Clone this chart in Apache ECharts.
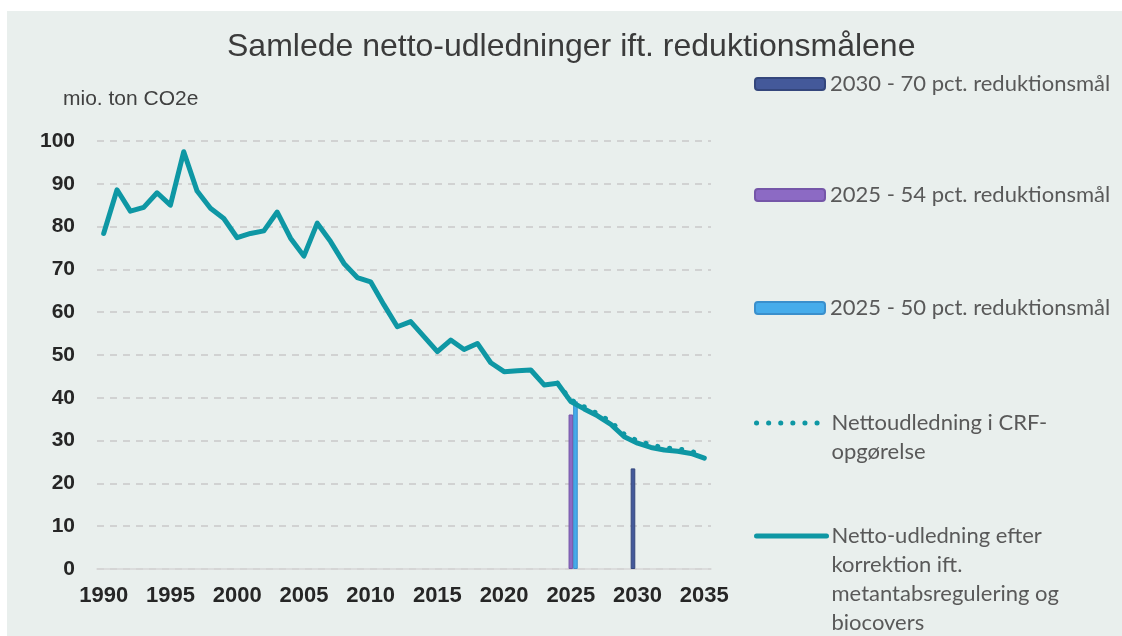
<!DOCTYPE html>
<html>
<head>
<meta charset="utf-8">
<title>Samlede netto-udledninger</title>
<script src="https://cdn.jsdelivr.net/npm/echarts@6/dist/echarts.min.js"></script>
<style>
  html, body { margin: 0; padding: 0; background: #fff; }
  #chart { width: 1122px; height: 636px; }
</style>
</head>
<body>
<div id="chart"></div>
<script>
// data (mio. ton CO2e)
const years = ['1990','1991','1992','1993','1994','1995','1996','1997','1998','1999',
  '2000','2001','2002','2003','2004','2005','2006','2007','2008','2009',
  '2010','2011','2012','2013','2014','2015','2016','2017','2018','2019',
  '2020','2021','2022','2023','2024','2025','2026','2027','2028','2029',
  '2030','2031','2032','2033','2034','2035'];

const nettoKorr = [78.4, 88.6, 83.6, 84.5, 87.9, 85.0, 97.5, 88.3, 84.3, 81.9,
  77.4, 78.4, 79.0, 83.4, 77.3, 73.1, 80.8, 76.5, 71.4, 68.1,
  67.1, 61.7, 56.6, 57.8, 54.3, 50.8, 53.5, 51.3, 52.7, 48.2,
  46.1, 46.3, 46.5, 43.0, 43.4, 39.1, 37.4, 35.8, 33.8, 30.9,
  29.4, 28.4, 27.8, 27.5, 27.0, 25.9];

const crfYears = ['2024','2025','2026','2027','2028','2029','2030','2031','2032','2033','2034','2035'];
const crfValues = [43.4, 39.5, 37.9, 36.3, 34.4, 31.5, 29.9, 29.0, 28.3, 28.1, 27.5, 26.6];

const target70 = [['2030', 23.5]];
const target54 = [['2025', 36.1]];
const target50 = [['2025', 39.2]];

const yTicks = { min: 0, max: 100, step: 10 };

const names = {
  t70: '2030 - 70 pct. reduktionsmål',
  t54: '2025 - 54 pct. reduktionsmål',
  t50: '2025 - 50 pct. reduktionsmål',
  crf: 'Nettoudledning i CRF-opgørelse',
  korr: 'Netto-udledning efter korrektion ift. metantabsregulering og biocovers'
};

const teal = '#0e97a4';
const dots = [0.1, 12];
const legendText = {
  fontFamily: 'Lato, "Noto Sans", sans-serif',
  fontSize: 22,
  color: '#595959',
  lineHeight: 29
};

// one legend per entry so each can sit where the original has it
function legendAt(name, top, label, line) {
  const lg = {
    data: [name],
    left: 754,
    top: top,
    padding: 0,
    itemWidth: 70,
    itemHeight: 12,
    selectedMode: false,
    formatter: () => label,
    textStyle: legendText
  };
  if (line) {
    lg.itemStyle = { color: 'rgba(0,0,0,0)', borderWidth: 0 };
    lg.lineStyle = line;
  }
  return lg;
}

const chart = echarts.init(document.getElementById('chart'));

chart.setOption({
  backgroundColor: '#ffffff',
  animation: false,
  graphic: [{
    type: 'rect',
    z: -10,
    silent: true,
    shape: { x: 7, y: 11, width: 1115, height: 625 },
    style: { fill: '#e9efed' }
  }],
  title: [
    {
      text: 'Samlede netto-udledninger ift. reduktionsmålene',
      left: 227,
      top: 31,
      padding: 0,
      textStyle: { fontFamily: '"Liberation Sans", Arial, sans-serif', fontSize: 32, fontWeight: 'normal', color: '#3b3b3b' }
    },
    {
      text: 'mio. ton CO2e',
      left: 63,
      top: 89,
      padding: 0,
      textStyle: { fontFamily: '"Liberation Sans", Arial, sans-serif', fontSize: 21, fontWeight: 'normal', color: '#404040' }
    }
  ],
  legend: [
    legendAt(names.t70, 69.5, names.t70),
    legendAt(names.t54, 180.5, names.t54),
    legendAt(names.t50, 293.5, names.t50),
    legendAt(names.crf, 379.5, '\nNettoudledning i CRF-\nopgørelse',
      { color: teal, width: 5, type: dots, cap: 'round' }),
    legendAt(names.korr, 434.5, '\n\n\nNetto-udledning efter\nkorrektion ift.\nmetantabsregulering og\nbiocovers',
      { color: teal, width: 5, type: 'solid', cap: 'round' })
  ],
  grid: { left: 97, right: 411, top: 141, bottom: 67 },
  xAxis: {
    type: 'category',
    data: years,
    boundaryGap: true,
    axisTick: { show: false },
    axisLine: { lineStyle: { color: '#d6d6d6', width: 1.5 } },
    axisLabel: {
      interval: (i) => i % 5 === 0,
      fontFamily: '"Liberation Sans", Arial, sans-serif',
      fontSize: 22,
      fontWeight: 'bold',
      color: '#262626',
      margin: 16
    }
  },
  yAxis: {
    type: 'value',
    min: yTicks.min,
    max: yTicks.max,
    interval: yTicks.step,
    axisLine: { show: false },
    axisTick: { show: false },
    axisLabel: {
      fontFamily: '"Liberation Sans", Arial, sans-serif',
      fontSize: 21,
      fontWeight: 'bold',
      color: '#262626',
      margin: 22
    },
    splitLine: { lineStyle: { color: '#c9c9c9', width: 1.5, type: [7, 6] } }
  },
  series: [
    {
      name: names.t70,
      type: 'bar',
      barWidth: 4.6,
      barGap: '0%',
      data: target70,
      itemStyle: { color: '#44599a', borderColor: '#34467c', borderWidth: 1 }
    },
    {
      name: names.t54,
      type: 'bar',
      barWidth: 4.6,
      barGap: '0%',
      data: target54,
      itemStyle: { color: '#8c6ac4', borderColor: '#7556a8', borderWidth: 1 }
    },
    {
      name: names.t50,
      type: 'bar',
      barWidth: 4.6,
      barGap: '0%',
      data: target50,
      itemStyle: { color: '#46aceb', borderColor: '#3a8fcc', borderWidth: 1 }
    },
    {
      name: names.crf,
      type: 'line',
      z: 4,
      symbol: 'none',
      data: crfYears.map((y, i) => [y, crfValues[i]]),
      lineStyle: { color: teal, width: 5, type: dots, cap: 'round' },
      itemStyle: { color: teal }
    },
    {
      name: names.korr,
      type: 'line',
      z: 5,
      symbol: 'none',
      data: nettoKorr,
      lineStyle: { color: teal, width: 5, cap: 'round', join: 'round' },
      itemStyle: { color: teal }
    }
  ]
});
</script>
</body>
</html>
